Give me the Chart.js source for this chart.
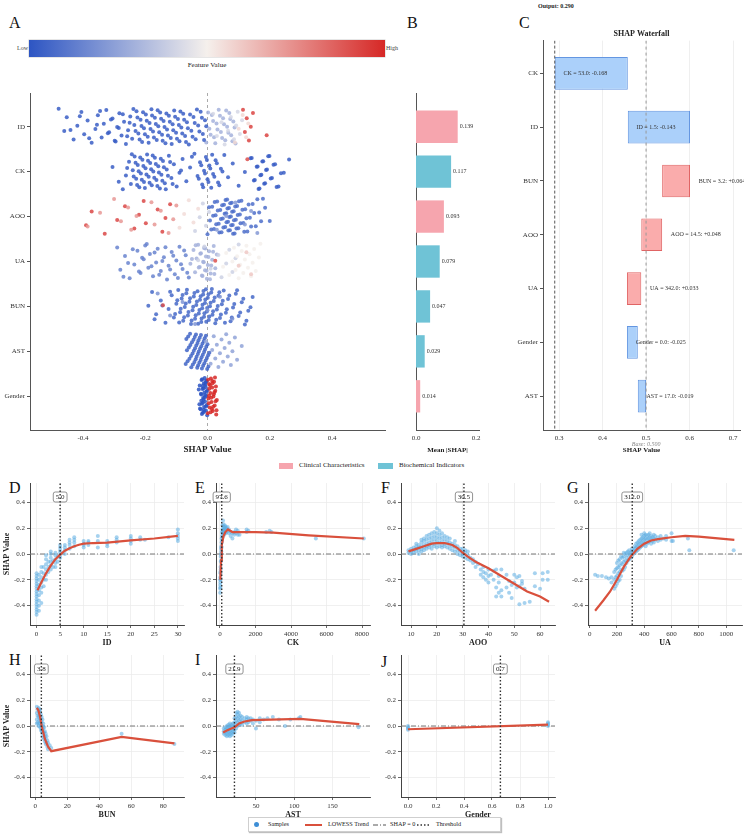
<!DOCTYPE html>
<html>
<head>
<meta charset="utf-8">
<title>SHAP summary</title>
<script src="https://cdn.jsdelivr.net/npm/chart.js@4.4.1/dist/chart.umd.min.js"></script>
<style>
  body { margin: 0; background: #fff; }
  #wrap { position: relative; width: 744px; height: 835px; overflow: hidden; background: #fff;
          font-family: 'Liberation Serif', 'Times New Roman', serif; color: #222; }
  .txt { position: absolute; white-space: nowrap; line-height: 1; }
  .letter { position: absolute; font-size: 16px; line-height: 1; color: #111; }
  canvas { position: absolute; }
  .sw { position: absolute; }
</style>
</head>
<body>
<div id="wrap">
  <div class="letter" style="left:9px;top:15px">A</div>
  <div class="letter" style="left:407px;top:15px">B</div>
  <div class="letter" style="left:519px;top:15px">C</div>
  <div class="letter" style="left:9px;top:480px">D</div>
  <div class="letter" style="left:195px;top:480px">E</div>
  <div class="letter" style="left:381px;top:480px">F</div>
  <div class="letter" style="left:567px;top:480px">G</div>
  <div class="letter" style="left:9px;top:652px">H</div>
  <div class="letter" style="left:195px;top:652px">I</div>
  <div class="letter" style="left:381px;top:654px">J</div>

  <div id="output" class="txt" style="left:538px;top:3px;font-size:6px;font-weight:bold"></div>

  <!-- colour bar of panel A -->
  <div id="cbar" style="position:absolute;left:29px;top:40px;width:356px;height:17px;box-shadow:0 0 0 0.5px #ccc"></div>
  <div class="txt" style="left:17px;top:45px;font-size:6px;color:#444">Low</div>
  <div class="txt" style="left:386px;top:45px;font-size:6px;color:#444">High</div>
  <div class="txt" style="left:207px;top:62px;font-size:7px;transform:translateX(-50%)">Feature Value</div>

  <!-- group legend under A/B -->
  <div class="sw" style="left:279px;top:463px;width:14px;height:6px;background:#F6A5AE"></div>
  <div class="txt" style="left:299px;top:462px;font-size:7px">Clinical Characteristics</div>
  <div class="sw" style="left:378px;top:463px;width:15px;height:6px;background:#6FC3D6"></div>
  <div class="txt" style="left:399px;top:462px;font-size:7px">Biochemical Indicators</div>

  <!-- bottom legend -->
  <div style="position:absolute;left:248px;top:817px;width:253px;height:15px;border:1px solid #cfcfcf;background:#fff;box-shadow:1px 1px 1px rgba(0,0,0,0.25);box-sizing:border-box"></div>
  <div class="sw" style="left:254px;top:822px;width:5px;height:5px;border-radius:50%;background:#3D8ED6"></div>
  <div class="txt" style="left:268px;top:821px;font-size:6.2px">Samples</div>
  <div class="sw" style="left:305px;top:824px;width:17px;height:2px;background:#D9503C"></div>
  <div class="txt" style="left:328px;top:821px;font-size:6.2px">LOWESS Trend</div>
  <svg class="sw" style="left:373px;top:822px" width="13" height="6"><line x1="0" y1="3" x2="13" y2="3" stroke="#555" stroke-width="1" stroke-dasharray="5,2,1,2"/></svg>
  <div class="txt" style="left:390px;top:821px;font-size:6.2px">SHAP = 0</div>
  <svg class="sw" style="left:417px;top:822px" width="13" height="6"><line x1="0" y1="3" x2="13" y2="3" stroke="#333" stroke-width="1.3" stroke-dasharray="1.5,2"/></svg>
  <div class="txt" style="left:436px;top:821px;font-size:6.2px">Threshold</div>
</div>

<script>
// ---------- data ----------
const features = ['ID', 'CK', 'AOO', 'UA', 'BUN', 'AST', 'Gender'];
const swarmTicks = [-0.4, -0.2, 0, 0.2, 0.4];

// beeswarm groups: [feature value (0 low .. 1 high), shap values...]
const swarmID = [
  [0.03, -0.478, -0.46, -0.452, -0.43, -0.418, -0.405, -0.396, -0.385, -0.372, -0.36, -0.352, -0.34, -0.333, -0.325,
   -0.316, -0.305, -0.298, -0.29, -0.283, -0.276, -0.268, -0.262, -0.255, -0.248, -0.242, -0.235, -0.228, -0.222,
   -0.215, -0.21, -0.204, -0.198, -0.192, -0.186, -0.18, -0.175, -0.169, -0.163, -0.158, -0.152, -0.146, -0.141,
   -0.135, -0.13, -0.124, -0.118, -0.112, -0.107, -0.101, -0.095, -0.09, -0.084, -0.078, -0.072, -0.066, -0.06,
   -0.052, -0.045, -0.038, -0.03, -0.022, -0.015, -0.008],
  [0.3, -0.004, 0.006, 0.014, 0.021, 0.029, 0.036, 0.043, 0.05, 0.057, 0.063, 0.07, 0.076, 0.083, 0.09],
  [0.03, -0.44, -0.41, -0.38, -0.355, -0.345, -0.32, -0.31, -0.295, -0.285, -0.272, -0.258, -0.25, -0.238, -0.231,
   -0.225, -0.218, -0.212, -0.207, -0.201, -0.195, -0.189, -0.183, -0.178, -0.172, -0.166, -0.16, -0.155, -0.149,
   -0.144, -0.138, -0.132, -0.127, -0.121, -0.115, -0.11, -0.104, -0.098, -0.092, -0.087, -0.081, -0.075, -0.069,
   -0.063, -0.056, -0.048, -0.041, -0.034, -0.026, -0.018, -0.011, -0.004],
  [0.3, 0.002, 0.01, 0.018, 0.025, 0.032, 0.04, 0.047, 0.053, 0.06, 0.067, 0.073, 0.08, 0.087],
  [0.42, 0.018, 0.03, 0.045, 0.055, 0.066, 0.075, 0.085, 0.092, 0.097, 0.104, 0.111],
  [0.56, 0.088, 0.1, 0.113, 0.124, 0.131],
  [0.93, 0.114, 0.12, 0.126, 0.133, 0.139, 0.146, 0.19]
];
const swarmCK = [
  [0.03, -0.305, -0.272, -0.262, -0.252, -0.246, -0.24, -0.234, -0.229, -0.224, -0.219, -0.214, -0.209, -0.204,
   -0.199, -0.194, -0.189, -0.184, -0.179, -0.174, -0.169, -0.164, -0.158, -0.153, -0.148, -0.143, -0.137,
   -0.131, -0.124, -0.116, -0.108, -0.099, -0.09, -0.08, -0.068, -0.056, -0.042, -0.032, -0.024, -0.017,
   -0.011, -0.005, 0.0, 0.006, 0.012, 0.018, 0.026, 0.034, 0.043, 0.054, 0.066, 0.081, 0.1, 0.12, 0.138,
   0.149, 0.158, 0.164, 0.17, 0.176, 0.182, 0.188, 0.195, 0.203, 0.212, 0.222, 0.236, 0.262],
  [0.03, -0.285, -0.258, -0.243, -0.237, -0.231, -0.226, -0.221, -0.216, -0.211, -0.206, -0.201, -0.196, -0.191,
   -0.186, -0.181, -0.176, -0.171, -0.166, -0.161, -0.156, -0.15, -0.145, -0.14, -0.134, -0.127, -0.12, -0.112,
   -0.085, -0.05, -0.028, -0.02, -0.014, -0.008, -0.002, 0.003, 0.009, 0.015, 0.022, 0.03, 0.038, 0.048, 0.142,
   0.152, 0.161, 0.167, 0.173, 0.179, 0.185, 0.191, 0.199, 0.207, 0.217, 0.228, 0.245],
  [0.9, 0.128]
];
const swarmAOO = [
  [0.92, -0.39, -0.372, -0.33, -0.29, -0.265, -0.235, -0.22, -0.205, -0.198, -0.16, -0.145, -0.135, -0.12],
  [0.72, -0.385, -0.345, -0.3, -0.278, -0.255, -0.245, -0.228, -0.18, -0.17, -0.15, -0.125, -0.11, -0.1],
  [0.55, -0.09, -0.075, -0.06, -0.045, -0.03],
  [0.4, -0.04, -0.025, -0.015, -0.005, 0.005],
  [0.08, 0.0, 0.008, 0.015, 0.021, 0.026, 0.031, 0.036, 0.041, 0.045, 0.049, 0.053, 0.057, 0.06, 0.063, 0.066,
   0.069, 0.072, 0.075, 0.078, 0.081, 0.084, 0.087, 0.091, 0.095, 0.099, 0.104, 0.109, 0.115, 0.121, 0.128,
   0.136, 0.145, 0.155, 0.166, 0.178, 0.2],
  [0.08, 0.005, 0.012, 0.018, 0.023, 0.028, 0.033, 0.038, 0.043, 0.047, 0.051, 0.055, 0.058, 0.061, 0.064, 0.067,
   0.07, 0.073, 0.076, 0.079, 0.082, 0.085, 0.089, 0.093, 0.097, 0.101, 0.106, 0.112, 0.118, 0.125, 0.132, 0.14,
   0.15, 0.16, 0.172, 0.185],
  [0.22, 0.03, 0.06, 0.09, 0.12, 0.14, 0.16]
];
const swarmUA = [
  [0.15, -0.29, -0.28, -0.265, -0.25, -0.235, -0.225, -0.215, -0.205, -0.2, -0.19, -0.185, -0.175, -0.165,
   -0.16, -0.15, -0.14, -0.13, -0.125, -0.115, -0.105, -0.1, -0.09, -0.08, -0.07, -0.06],
  [0.3, -0.055, -0.045, -0.04, -0.035, -0.03, -0.025, -0.021, -0.018, -0.014, -0.011, -0.008, -0.005, -0.002,
   0.001, 0.005, 0.01, 0.015, 0.02, 0.025, 0.03],
  [0.15, -0.27, -0.255, -0.24, -0.22, -0.21, -0.195, -0.18, -0.17, -0.155, -0.145, -0.135, -0.12, -0.11, -0.095,
   -0.085, -0.075, -0.065],
  [0.3, -0.05, -0.038, -0.028, -0.023, -0.016, -0.012, -0.007, -0.003, 0.003, 0.008, 0.012, 0.018, 0.022],
  [0.4, -0.03, -0.01, 0.01, 0.035, 0.045, 0.06, 0.07, 0.08, 0.09, 0.1],
  [0.5, 0.05, 0.06, 0.07, 0.08, 0.085, 0.09, 0.095, 0.1, 0.105, 0.11, 0.115, 0.12, 0.125, 0.13, 0.135, 0.14,
   0.145, 0.15, 0.155, 0.165, 0.17],
  [0.6, 0.1, 0.125, 0.14],
  [0.9, 0.025]
];
const swarmBUN = [
  [0.06, -0.19, -0.178, -0.165, -0.15, -0.135, -0.125, -0.115, -0.108, -0.1, -0.094, -0.088, -0.083, -0.078,
   -0.073, -0.068, -0.063, -0.058, -0.053, -0.048, -0.044, -0.04, -0.036, -0.032, -0.028, -0.024, -0.02,
   -0.017, -0.014, -0.011, -0.008, -0.005, -0.002, 0.001, 0.004, 0.008, 0.012, 0.016, 0.02, 0.025, 0.03,
   0.035, 0.04, 0.046, 0.052, 0.059, 0.066, 0.074, 0.082, 0.091, 0.1, 0.11, 0.12, 0.131, 0.145],
  [0.06, -0.17, -0.145, -0.12, -0.104, -0.097, -0.091, -0.086, -0.08, -0.075, -0.07, -0.066, -0.061, -0.056,
   -0.051, -0.046, -0.042, -0.038, -0.034, -0.03, -0.026, -0.022, -0.019, -0.016, -0.013, -0.01, -0.007, -0.004,
   -0.001, 0.003, 0.006, 0.01, 0.014, 0.018, 0.023, 0.028, 0.033, 0.038, 0.043, 0.049, 0.056, 0.062, 0.07,
   0.078, 0.086, 0.095, 0.105, 0.115, 0.125, 0.138],
  [0.2, -0.16, -0.12, -0.08, -0.04, 0.0, 0.04, 0.08],
  [0.9, -0.143]
];
const swarmAST = [
  [0.05, -0.07, -0.066, -0.062, -0.058, -0.055, -0.052, -0.048, -0.045, -0.042, -0.04, -0.037, -0.035, -0.032,
   -0.03, -0.028, -0.025, -0.022, -0.02, -0.018, -0.015, -0.012, -0.01, -0.008, -0.005, -0.002, 0.0, 0.003, 0.006],
  [0.05, -0.068, -0.064, -0.06, -0.056, -0.053, -0.05, -0.047, -0.044, -0.041, -0.038, -0.036, -0.033, -0.031,
   -0.029, -0.026, -0.024, -0.021, -0.019, -0.016, -0.014, -0.011, -0.009, -0.006, -0.004, -0.001, 0.002],
  [0.25, -0.005, 0.01, 0.015, 0.02, 0.025, 0.03, 0.035, 0.04, 0.045, 0.05, 0.055, 0.06, 0.065, 0.07, 0.075,
   0.08, 0.088, 0.095, 0.11]
];
const swarmGender = [
  [0.0, -0.025, -0.022, -0.02, -0.019, -0.018, -0.016, -0.015, -0.014, -0.012, -0.011, -0.01, -0.009, -0.008,
   -0.006, -0.005, -0.004, -0.003, -0.002, -0.001, -0.018, -0.013, -0.007, -0.024, -0.021, -0.017, -0.015,
   -0.013, -0.011, -0.009, -0.007, -0.005, -0.003, -0.001, -0.02, -0.016, -0.012, -0.008, -0.004, -0.026, -0.028],
  [1.0, 0.001, 0.003, 0.005, 0.007, 0.009, 0.011, 0.013, 0.015, 0.017, 0.019, 0.021, 0.023, 0.025, 0.028,
   0.03, 0.008, 0.014, 0.02, 0.002, 0.004, 0.006, 0.01, 0.012, 0.016, 0.018, 0.022, 0.024, 0.026, 0.027,
   0.029, 0.005, 0.015]
];

// mean |SHAP|
const meanShap = [0.139, 0.117, 0.093, 0.079, 0.047, 0.029, 0.014];
const featureGroup = ['Clinical', 'Biochemical', 'Clinical', 'Biochemical', 'Biochemical', 'Biochemical', 'Clinical'];
const meanTicks = [0, 0.2];

// waterfall
const wfFeatures = ['CK', 'ID', 'BUN', 'AOO', 'UA', 'Gender', 'AST'];
const wfValues = ['53.0', '1.5', '3.2', '14.5', '342.0', '0.0', '17.0'];
const wfContrib = [-0.168, -0.143, 0.064, 0.048, 0.033, -0.025, -0.019];
const wfBase = 0.5;
const wfTicks = [0.3, 0.4, 0.5, 0.6, 0.7];

// dependence plots: [x, shap values...]
const shapTicks = [-0.4, -0.2, 0, 0.2, 0.4];
const thresholds = [5.0, 97.6, 30.5, 312.0, 3.8, 21.9, 0.66];

const idPts = [
  [0, -0.47, -0.45, -0.43, -0.41, -0.39, -0.37, -0.35, -0.33, -0.31, -0.29, -0.27, -0.25, -0.23, -0.21, -0.19, -0.17, -0.15],
  [0.5, -0.44, -0.4, -0.36, -0.32, -0.28, -0.24, -0.2, -0.16],
  [1, -0.38, -0.3, -0.26, -0.22, -0.18, -0.14, -0.1],
  [1.5, -0.25, -0.2, -0.15, -0.1],
  [2, -0.2, -0.16, -0.12, -0.08, -0.04, -0.01],
  [2.5, -0.14, -0.1, -0.06],
  [3, -0.12, -0.09, -0.06, -0.03, 0.0, 0.02],
  [3.5, -0.1, -0.05],
  [4, -0.1, -0.07, -0.04, -0.01, 0.01],
  [4.5, -0.06, -0.02],
  [5, -0.03, -0.01, 0.01, 0.03, 0.05, 0.07],
  [6, 0.0, 0.03, 0.05, 0.07],
  [7, 0.04, 0.07, 0.09, 0.11],
  [8, 0.06, 0.09, 0.11, 0.13],
  [10, 0.05, 0.07, 0.08, 0.1],
  [11, 0.07, 0.09, 0.1],
  [13, 0.05, 0.1, 0.14],
  [15, 0.06, 0.08, 0.1],
  [17, 0.09, 0.11, 0.13],
  [20, 0.08, 0.1, 0.12, 0.14],
  [22, 0.11, 0.13],
  [23, 0.11],
  [28, 0.13],
  [30, 0.1, 0.12, 0.14, 0.16, 0.19]
];
const idTrend = [[0.2, -0.28], [1, -0.22], [2, -0.15], [3, -0.09], [4, -0.04], [5, -0.005], [6, 0.025], [7, 0.045],
  [8, 0.06], [9, 0.072], [10, 0.08], [12, 0.085], [15, 0.088], [20, 0.105], [25, 0.12], [30, 0.14]];
const idTicks = [0, 5, 10, 15, 20, 25, 30];

const ckPts = [
  [10, -0.3, -0.27, -0.24, -0.2], [20, -0.26, -0.22, -0.18, -0.14], [30, -0.2, -0.15, -0.1],
  [45, -0.12, -0.06, -0.02], [60, -0.05, 0.0, 0.04], [75, 0.02, 0.06], [90, 0.05, 0.09, 0.12],
  [110, 0.1, 0.14, 0.17], [140, 0.13, 0.16, 0.19, 0.22], [170, 0.15, 0.18, 0.21, 0.26], [200, 0.16, 0.19, 0.23],
  [240, 0.15, 0.18, 0.21], [280, 0.17, 0.2, 0.22], [320, 0.16, 0.19, 0.21], [380, 0.17, 0.2], [430, 0.18, 0.21],
  [500, 0.16, 0.19], [600, 0.14, 0.17], [700, 0.12, 0.16], [800, 0.15, 0.17], [900, 0.16, 0.19],
  [1000, 0.15, 0.18], [1100, 0.15], [1500, 0.17, 0.19], [1600, 0.18], [2600, 0.17], [2800, 0.18],
  [2900, 0.17], [5400, 0.12], [8100, 0.12]
];
const ckTrend = [[20, -0.2], [60, -0.05], [100, 0.07], [200, 0.14], [300, 0.17], [450, 0.19], [700, 0.17],
  [1000, 0.17], [2000, 0.17], [3000, 0.165], [5000, 0.145], [8100, 0.12]];
const ckTicks = [0, 2000, 4000, 6000, 8000];

const aooPts = [
  [9, 0.01, 0.03], [10, 0.0, 0.02, 0.04], [11, 0.01, 0.03, 0.05], [12, 0.02, 0.04, 0.06, 0.08],
  [13, 0.0, 0.03, 0.05, 0.07], [14, 0.02, 0.04, 0.06, 0.09, 0.11], [15, 0.03, 0.05, 0.07, 0.1, 0.12],
  [16, 0.04, 0.06, 0.08, 0.11, 0.14], [17, 0.05, 0.07, 0.09, 0.12, 0.15], [18, 0.04, 0.07, 0.1, 0.13, 0.16],
  [19, 0.06, 0.08, 0.11, 0.14, 0.17], [20, 0.05, 0.08, 0.1, 0.13, 0.16, 0.2], [21, 0.06, 0.09, 0.12, 0.15, 0.18],
  [22, 0.05, 0.07, 0.1, 0.13, 0.16], [23, 0.06, 0.08, 0.11, 0.14], [24, 0.05, 0.08, 0.1, 0.13],
  [25, 0.04, 0.07, 0.09, 0.12], [26, 0.03, 0.06, 0.08], [27, 0.02, 0.05, 0.07, 0.1], [28, 0.0, 0.03, 0.06],
  [29, -0.01, 0.02, 0.04], [30, -0.02, 0.0, 0.02, 0.04], [31, -0.03, 0.01, 0.03], [32, -0.04, -0.01, 0.02],
  [33, -0.05, -0.03], [34, -0.07, -0.04], [35, -0.1, -0.06], [36, -0.08], [37, -0.16, -0.12],
  [38, -0.18, -0.14, -0.1], [39, -0.2, -0.15], [40, -0.22, -0.17, -0.12], [41, -0.16], [42, -0.2, -0.13],
  [43, -0.33, -0.26, -0.12], [44, -0.3, -0.22, -0.17], [45, -0.33, -0.28, -0.12], [47, -0.26, -0.16],
  [48, -0.3, -0.21], [49, -0.34, -0.24], [50, -0.22, -0.16], [51, -0.18, -0.26], [52, -0.39, -0.25, -0.17],
  [53, -0.21, -0.23], [54, -0.38, -0.27], [56, -0.37], [58, -0.25, -0.15], [60, -0.27], [61, -0.2, -0.15],
  [63, -0.2, -0.14]
];
const aooTrend = [[9, 0.02], [12, 0.04], [15, 0.06], [18, 0.08], [20, 0.085], [23, 0.085], [26, 0.07], [28, 0.045],
  [30, 0.01], [32, -0.02], [35, -0.06], [40, -0.11], [45, -0.17], [50, -0.23], [55, -0.29], [60, -0.33], [63.5, -0.37]];
const aooTicks = [10, 20, 30, 40, 50, 60];

const uaPts = [
  [40, -0.16], [60, -0.17], [90, -0.17], [120, -0.18], [140, -0.19], [160, -0.22, -0.18],
  [180, -0.27, -0.2, -0.14], [190, -0.25, -0.18, -0.12], [200, -0.23, -0.17, -0.11, -0.07],
  [210, -0.21, -0.15, -0.1, -0.05], [220, -0.2, -0.14, -0.09, -0.04], [230, -0.17, -0.12, -0.07, -0.02],
  [240, -0.13, -0.08, -0.03], [250, -0.12, -0.06, -0.02, 0.01], [260, -0.1, -0.05, 0.0], [270, -0.07, -0.03, 0.01],
  [280, -0.05, -0.01, 0.02], [290, -0.04, 0.0, 0.03], [300, -0.03, 0.01], [310, -0.02, 0.02, 0.04],
  [320, 0.0, 0.03], [330, 0.01, 0.04, 0.06], [340, 0.02, 0.05, 0.08], [350, 0.03, 0.06, 0.09],
  [360, 0.04, 0.07, 0.1], [370, 0.05, 0.08, 0.11], [380, 0.06, 0.09, 0.12, 0.15], [390, 0.07, 0.1, 0.13],
  [400, 0.08, 0.11, 0.14, 0.16], [410, 0.06, 0.09, 0.12, 0.15], [420, 0.08, 0.11, 0.14], [430, 0.09, 0.12, 0.15],
  [440, 0.1, 0.13, 0.16], [450, 0.08, 0.11, 0.14], [460, 0.1, 0.13], [470, 0.09, 0.12, 0.15], [480, 0.11, 0.14],
  [500, 0.1, 0.13], [520, 0.11, 0.14], [540, 0.12], [560, 0.11, 0.14], [600, 0.1, 0.16], [610, 0.1],
  [720, 0.12], [730, 0.03], [1055, 0.03]
];
const uaTrend = [[40, -0.44], [100, -0.36], [150, -0.29], [200, -0.2], [250, -0.1], [300, -0.02], [350, 0.04],
  [400, 0.08], [450, 0.105], [500, 0.115], [600, 0.13], [700, 0.14], [800, 0.135], [1060, 0.11]];
const uaTicks = [0, 200, 400, 600, 800, 1000];

const bunPts = [
  [1, 0.15, 0.1, 0.05, 0.02], [1.5, 0.13, 0.08, 0.03], [2, 0.14, 0.11, 0.07, 0.02, 0.0], [2.5, 0.12, 0.08, 0.04],
  [3, 0.13, 0.1, 0.06, 0.02, -0.01], [3.5, 0.09, 0.04, 0.0, -0.03], [4, 0.07, 0.03, -0.01, -0.04],
  [4.5, 0.05, 0.0, -0.04, -0.07], [5, 0.02, -0.02, -0.05, -0.09], [5.5, -0.01, -0.05, -0.1],
  [6, -0.04, -0.08, -0.12], [6.5, -0.06, -0.1, -0.14], [7, -0.08, -0.13], [7.5, -0.11, -0.16], [8, -0.13, -0.18],
  [9, -0.15], [10, -0.17], [54, -0.06], [87, -0.14]
];
const bunTrend = [[1, 0.14], [2, 0.12], [3, 0.07], [4, 0.0], [5, -0.05], [6, -0.1], [8, -0.16], [10, -0.195],
  [54, -0.085], [87, -0.135]];
const bunTicks = [0, 20, 40, 60, 80];

const astPts = [
  [8, -0.06, -0.04, -0.02], [10, -0.07, -0.05, -0.03, -0.01], [12, -0.08, -0.06, -0.04, -0.02, 0.0],
  [14, -0.07, -0.05, -0.03, -0.01, 0.01], [16, -0.08, -0.06, -0.04, -0.02, 0.0, 0.02],
  [18, -0.07, -0.05, -0.03, -0.01, 0.01], [20, -0.06, -0.04, -0.02, 0.0, 0.02], [22, -0.05, -0.03, 0.0, 0.03, 0.06],
  [24, -0.02, 0.01, 0.04, 0.07, 0.1], [26, 0.0, 0.03, 0.06, 0.09, 0.11], [28, 0.01, 0.04, 0.07, 0.1],
  [30, 0.02, 0.05, 0.08], [32, 0.01, 0.04, 0.07], [35, 0.03, 0.06], [38, 0.02, 0.05, 0.07], [40, 0.03, 0.06],
  [43, 0.04, 0.06], [46, 0.02, 0.05], [50, -0.02, 0.04], [55, 0.03, 0.06], [60, 0.05], [65, 0.06], [72, 0.07],
  [80, 0.05], [88, 0.0], [95, 0.05], [106, 0.06], [108, 0.07], [184, -0.01]
];
const astTrend = [[7, -0.05], [12, -0.035], [18, -0.02], [22, -0.01], [28, 0.02], [35, 0.035], [45, 0.045],
  [70, 0.05], [108, 0.055], [185, 0.015]];
const astTicks = [50, 100, 150];

const genderPts = [[0, -0.03, -0.02, -0.01, 0.0], [1, 0.0, 0.01, 0.02, 0.03]];
const genderTrend = [[0, -0.025], [1, 0.01]];
const genderTicks = [0, 0.2, 0.4, 0.6, 0.8, 1.0];

// ---------- helpers ----------
Chart.defaults.font.family = "'Liberation Serif', 'Times New Roman', serif";
Chart.defaults.font.size = 7;
Chart.defaults.color = '#333';
Chart.defaults.animation = false;
Chart.defaults.responsive = false;
Chart.defaults.events = [];
Chart.defaults.plugins.legend.display = false;
Chart.defaults.plugins.tooltip.enabled = false;

const FONT = "'Liberation Serif', 'Times New Roman', serif";
const groupColors = { Clinical: '#F6A5AE', Biochemical: '#6FC3D6' };

function cmap(t, a) {
  const lo = [45, 85, 195], mid = [245, 240, 236], hi = [214, 40, 38];
  const [p, q, f] = t < 0.5 ? [lo, mid, t / 0.5] : [mid, hi, (t - 0.5) / 0.5];
  const c = p.map((v, i) => Math.round(v + (q[i] - v) * f));
  return `rgba(${c[0]},${c[1]},${c[2]},${a})`;
}

function makeCanvas(left, top, w, h) {
  const c = document.createElement('canvas');
  c.width = w;
  c.height = h;
  c.style.left = left + 'px';
  c.style.top = top + 'px';
  document.getElementById('wrap').appendChild(c);
  return c.getContext('2d');
}

function fixTicks(values) {
  return scale => { scale.ticks = values.map(v => ({ value: v })); };
}

const rowIdx = features.map((f, i) => i);

// ---------- panel A: beeswarm ----------
function setupSwarm() {
  document.getElementById('cbar').style.background =
    'linear-gradient(to right,' + [0, 0.25, 0.5, 0.75, 1].map(t => cmap(t, 1)).join(',') + ')';

  const rows = [swarmID, swarmCK, swarmAOO, swarmUA, swarmBUN, swarmAST, swarmGender];
  const pts = [], cols = [];
  rows.forEach((groups, row) => {
    let k = 0;
    const spread = row === 6 ? 0.85 : 0.8;
    groups.forEach(g => {
      g.slice(1).forEach(v => {
        // strip-plot jitter (low-discrepancy sequence)
        const j = ((k * 0.6180339887 + row * 0.37) % 1) - 0.5;
        pts.push({ x: v, y: row + j * spread });
        cols.push(cmap(g[0], 0.85));
        k++;
      });
    });
  });

  new Chart(makeCanvas(0, 85, 395, 370), {
    type: 'scatter',
    data: {
      datasets: [
        { data: pts, pointBackgroundColor: cols, pointBorderWidth: 0, pointRadius: 2, order: 1 },
        { type: 'line', data: [{ x: 0, y: -0.75 }, { x: 0, y: 6.75 }], borderColor: '#aaa', borderWidth: 1,
          borderDash: [3, 3], pointRadius: 0, order: 2 }
      ]
    },
    options: {
      layout: { padding: { top: 8, right: 10 } },
      scales: {
        x: {
          type: 'linear', min: -0.57, max: 0.57,
          afterBuildTicks: fixTicks(swarmTicks),
          afterFit: s => { s.height = 25; },
          grid: { display: false, drawTicks: false },
          border: { color: '#555' },
          ticks: { callback: v => v.toFixed(1), padding: 4 },
          title: { display: true, text: 'SHAP Value', font: { size: 9, weight: 'bold' }, color: '#222', padding: 0 }
        },
        y: {
          type: 'linear', min: -0.75, max: 6.75, reverse: true,
          afterBuildTicks: fixTicks(rowIdx),
          afterFit: s => { s.width = 30; },
          grid: { drawOnChartArea: false, tickLength: 3, tickColor: '#555' },
          border: { color: '#555' },
          ticks: { callback: v => features[v], padding: 2 }
        }
      }
    }
  });
}

// ---------- panel B: mean |SHAP| ----------
const barValueLabels = {
  id: 'barValueLabels',
  afterDatasetsDraw(chart) {
    const { ctx } = chart;
    ctx.save();
    ctx.font = '6px ' + FONT;
    ctx.fillStyle = '#333';
    ctx.textBaseline = 'middle';
    chart.getDatasetMeta(0).data.forEach((bar, i) => {
      ctx.fillText(meanShap[i].toFixed(3), bar.x + 2, bar.y);
    });
    ctx.restore();
  }
};

function setupMeanBars() {
  new Chart(makeCanvas(405, 85, 82, 370), {
    type: 'bar',
    data: {
      datasets: [{
        data: meanShap.map((v, i) => ({ x: v, y: i })),
        backgroundColor: featureGroup.map(g => groupColors[g]),
        borderWidth: 0
      }]
    },
    options: {
      indexAxis: 'y',
      layout: { padding: { top: 8, right: 8 } },
      scales: {
        x: {
          type: 'linear', min: 0, max: 0.21, offset: false,
          afterBuildTicks: fixTicks(meanTicks),
          afterFit: s => { s.height = 25; },
          grid: { display: false, drawTicks: false, offset: false },
          border: { color: '#555' },
          ticks: { callback: v => v.toFixed(1), padding: 4 },
          title: { display: true, text: 'Mean |SHAP|', font: { size: 7, weight: 'bold' }, color: '#222', padding: { top: 0, bottom: 1 } }
        },
        y: {
          type: 'linear', min: -0.75, max: 6.75, reverse: true, offset: false,
          afterBuildTicks: fixTicks(rowIdx),
          afterFit: s => { s.width = 11; },
          grid: { display: false, drawTicks: false, offset: false },
          border: { color: '#555' },
          ticks: { display: false }
        }
      }
    },
    plugins: [barValueLabels]
  });
}

// ---------- panel C: waterfall ----------
const wfBars = [];
let wfRun = wfBase;
for (let i = wfFeatures.length - 1; i >= 0; i--) {
  const end = wfRun + wfContrib[i];
  wfBars[i] = [wfRun, end];
  wfRun = end;
}
const wfOutput = wfRun;

const waterfallLabels = {
  id: 'waterfallLabels',
  afterDatasetsDraw(chart) {
    const { ctx, chartArea } = chart;
    const xs = chart.scales.x, ys = chart.scales.y;
    ctx.save();
    ctx.font = '6px ' + FONT;
    ctx.fillStyle = '#333';
    ctx.textBaseline = 'middle';
    wfFeatures.forEach((f, i) => {
      const c = wfContrib[i];
      const txt = `${f} = ${wfValues[i]}: ${c > 0 ? '+' : ''}${c.toFixed(3)}`;
      ctx.fillText(txt, xs.getPixelForValue(wfBars[i][1] + 0.02), ys.getPixelForValue(i));
    });
    ctx.font = 'italic 6px ' + FONT;
    ctx.fillStyle = '#888';
    ctx.textAlign = 'center';
    ctx.fillText(`Base: ${wfBase.toFixed(3)}`, xs.getPixelForValue(wfBase), chartArea.bottom + 14);
    ctx.restore();
  }
};

function setupWaterfall() {
  document.getElementById('output').textContent = `Output: ${wfOutput.toFixed(3)}`;
  new Chart(makeCanvas(500, 22, 244, 434), {
    type: 'bar',
    data: {
      datasets: [
        {
          indexAxis: 'y',
          data: wfBars.map((b, i) => ({ x: b, y: i })),
          backgroundColor: wfContrib.map(c => c > 0 ? 'rgba(250,168,168,0.95)' : 'rgba(166,205,250,0.95)'),
          borderColor: wfContrib.map(c => c > 0 ? '#E06464' : '#6496E1'),
          borderWidth: 1,
          borderSkipped: false,
          categoryPercentage: 0.8,
          barPercentage: 0.76,
          order: 3
        },
        { type: 'line', data: [{ x: wfOutput, y: -0.61 }, { x: wfOutput, y: 6.63 }], borderColor: '#555',
          borderWidth: 1, borderDash: [3, 2], pointRadius: 0, order: 1 },
        { type: 'line', data: [{ x: wfBase, y: -0.61 }, { x: wfBase, y: 6.63 }], borderColor: '#999',
          borderWidth: 1, borderDash: [3, 3], pointRadius: 0, order: 2 }
      ]
    },
    options: {
      layout: { padding: { right: 4 } },
      plugins: {
        title: { display: true, text: 'SHAP Waterfall', fullSize: false, color: '#222',
                 font: { size: 8, weight: 'bold' }, padding: { top: 7, bottom: 2 } }
      },
      scales: {
        x: {
          type: 'linear', min: 0.263, max: 0.716, offset: false,
          afterBuildTicks: fixTicks(wfTicks),
          afterFit: s => { s.height = 26; },
          grid: { color: '#efefef', drawTicks: false, offset: false },
          border: { color: '#555' },
          ticks: { callback: v => v.toFixed(1), padding: 4 },
          title: { display: true, text: 'SHAP Value', font: { size: 7, weight: 'bold' }, color: '#222', padding: { top: 0, bottom: 2 } }
        },
        y: {
          type: 'linear', min: -0.61, max: 6.63, reverse: true, offset: false,
          afterBuildTicks: fixTicks(rowIdx),
          afterFit: s => { s.width = 43; },
          grid: { drawOnChartArea: false, tickLength: 3, tickColor: '#555', offset: false },
          border: { color: '#555' },
          ticks: { callback: v => wfFeatures[v], padding: 2 }
        }
      }
    },
    plugins: [waterfallLabels]
  });
}

// ---------- panels D-J: dependence plots ----------
const thresholdLabel = {
  id: 'thresholdLabel',
  beforeDatasetsDraw(chart, args, opts) {
    const { ctx, chartArea } = chart;
    const x = chart.scales.x.getPixelForValue(opts.value);
    const y = chartArea.top + 14;
    ctx.save();
    ctx.font = '7px ' + FONT;
    const w = ctx.measureText(opts.text).width + 5, h = 10;
    ctx.beginPath();
    ctx.roundRect(x - w / 2, y - h / 2, w, h, 2);
    ctx.fillStyle = '#fff';
    ctx.fill();
    ctx.strokeStyle = '#777';
    ctx.lineWidth = 0.8;
    ctx.stroke();
    ctx.fillStyle = '#222';
    ctx.textAlign = 'center';
    ctx.textBaseline = 'middle';
    ctx.fillText(opts.text, x, y + 0.5);
    ctx.restore();
  }
};

function depChart(p) {
  const pts = [];
  p.pts.forEach(col => col.slice(1).forEach(y => pts.push({ x: col[0], y: y })));
  const yMin = -0.55, yMax = 0.55;

  new Chart(makeCanvas(p.left - 30, p.top - 8, 190, 173), {
    type: 'scatter',
    data: {
      datasets: [
        { type: 'line', data: [{ x: p.min, y: 0 }, { x: p.max, y: 0 }], borderColor: '#777', borderWidth: 1,
          borderDash: [5, 2, 1, 2], pointRadius: 0, order: 4 },
        { data: pts, pointBackgroundColor: 'rgba(93,173,226,0.55)', pointBorderWidth: 0, pointRadius: 2, order: 3 },
        { type: 'line', data: p.trend.map(([x, y]) => ({ x, y })), borderColor: '#D9503C', borderWidth: 2.2,
          pointRadius: 0, order: 2 },
        { type: 'line', data: [{ x: p.thr, y: yMin }, { x: p.thr, y: yMax }], borderColor: '#333', borderWidth: 1.4,
          borderDash: [1.5, 2], pointRadius: 0, order: 1 }
      ]
    },
    options: {
      layout: { padding: { top: 8, right: 6 } },
      plugins: { thresholdLabel: { value: p.thr, text: p.thr.toFixed(1) } },
      scales: {
        x: {
          type: 'linear', min: p.min, max: p.max,
          afterBuildTicks: fixTicks(p.ticks),
          afterFit: s => { s.height = 23; },
          grid: { color: '#ececec', lineWidth: 0.8, tickLength: 3, tickColor: '#444' },
          border: { color: '#444' },
          ticks: { callback: p.fmt || (v => String(v)), padding: 2 },
          title: { display: true, text: p.name, font: { size: 8, weight: 'bold' }, color: '#222', padding: 0 }
        },
        y: {
          type: 'linear', min: yMin, max: yMax,
          afterBuildTicks: fixTicks(shapTicks),
          afterFit: s => { s.width = 30; },
          grid: { color: '#ececec', lineWidth: 0.8, tickLength: 3, tickColor: '#444' },
          border: { color: '#444' },
          ticks: { callback: v => v.toFixed(1), padding: 2 },
          title: { display: !!p.yTitle, text: 'SHAP Value', font: { size: 8, weight: 'bold' }, color: '#222',
                   padding: { top: 2, bottom: 0 } }
        }
      }
    },
    plugins: [thresholdLabel]
  });
}

function setupDependence() {
  const panels = [
    { name: 'ID', pts: idPts, trend: idTrend, thr: thresholds[0], min: -1.4, max: 31.3, ticks: idTicks, left: 30, top: 483, yTitle: true },
    { name: 'CK', pts: ckPts, trend: ckTrend, thr: thresholds[1], min: -225, max: 8450, ticks: ckTicks, left: 216, top: 483 },
    { name: 'AOO', pts: aooPts, trend: aooTrend, thr: thresholds[2], min: 6.1, max: 65.8, ticks: aooTicks, left: 401, top: 483 },
    { name: 'UA', pts: uaPts, trend: uaTrend, thr: thresholds[3], min: -12, max: 1116, ticks: uaTicks, left: 588, top: 483 },
    { name: 'BUN', pts: bunPts, trend: bunTrend, thr: thresholds[4], min: -3.3, max: 93, ticks: bunTicks, left: 30, top: 655, yTitle: true },
    { name: 'AST', pts: astPts, trend: astTrend, thr: thresholds[5], min: -2.2, max: 199, ticks: astTicks, left: 216, top: 655 },
    { name: 'Gender', pts: genderPts, trend: genderTrend, thr: thresholds[6], min: -0.05, max: 1.05, ticks: genderTicks,
      left: 401, top: 655, fmt: v => v.toFixed(1) }
  ];
  panels.forEach(depChart);
}

document.addEventListener('DOMContentLoaded', function() {
  setupSwarm();
  setupMeanBars();
  setupWaterfall();
  setupDependence();
});
</script>
</body>
</html>
